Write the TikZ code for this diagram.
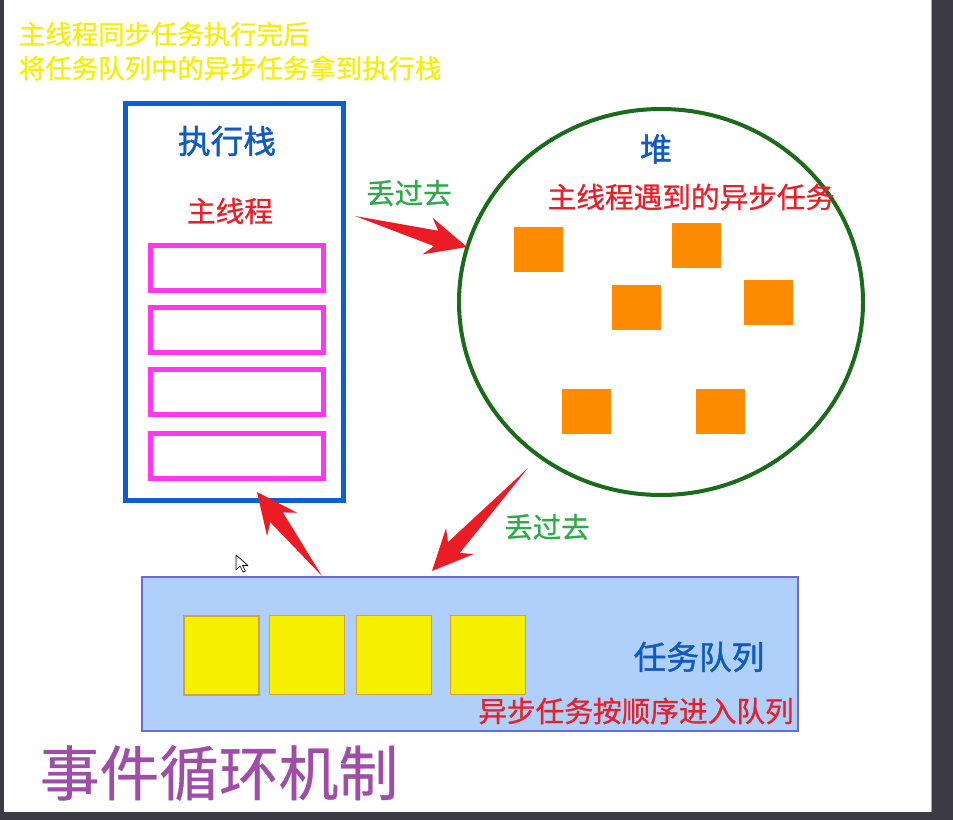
\documentclass[tikz,border=0pt]{standalone}
\usepackage{fontspec}
\setmainfont{Noto Sans CJK SC}
\newfontfamily\cjkmid[FakeBold=0.9]{Noto Sans CJK SC}
\newfontfamily\cjkheavy[FakeBold=1.3]{Noto Sans CJK SC}
\newfontfamily\cjklight[FakeBold=0.5]{Noto Sans CJK SC}
\usetikzlibrary{shapes.geometric,calc}
\definecolor{ttlyellow}{HTML}{F7EE00}
\definecolor{hdblue}{HTML}{0F5BC0}
\definecolor{txtred}{HTML}{E8202A}
\definecolor{txtgreen}{HTML}{2EAA4A}
\definecolor{stackblue}{HTML}{0B5FD0}
\definecolor{framemag}{HTML}{FF38F0}
\definecolor{heapgreen}{HTML}{1A6B1A}
\definecolor{taskorange}{HTML}{FF8C00}
\definecolor{queuefill}{HTML}{AED0FA}
\definecolor{queueline}{HTML}{6A6ADE}
\definecolor{qyellow}{HTML}{F5F000}
\definecolor{qyline}{HTML}{D4A040}
\definecolor{ttlpurple}{HTML}{A04DA8}
\definecolor{arrowred}{HTML}{EC1C24}
\definecolor{darkframe}{HTML}{3C3B44}
\newcommand\redarrow[2]{%
  \path ($(#2)!30.75pt!(#1)$) coordinate (rbase) ($(#2)!24pt!(#1)$) coordinate (rneck);
  \fill[arrowred] (#1) -- ($(rneck)!6pt!90:(#2)$) -- ($(rbase)!14.25pt!90:(#2)$) -- (#2)
    -- ($(rbase)!14.25pt!-90:(#2)$) -- ($(rneck)!6pt!-90:(#2)$) -- cycle;}
\tikzset{
  txt/.style={inner sep=0pt, outer sep=0pt},
  ttl/.style={txt, anchor=west, text=ttlyellow, font=\cjkmid\fontsize{19.8pt}{24pt}\selectfont},
  head/.style={txt, text=hdblue, font=\cjkheavy\fontsize{24.5pt}{28pt}\selectfont},
  redlbl/.style={txt, text=txtred, font=\cjkmid\fontsize{21.5pt}{26pt}\selectfont},
  greenlbl/.style={txt, text=txtgreen, font=\cjkmid\fontsize{21.3pt}{26pt}\selectfont},
  stackbox/.style={draw=stackblue, line width=3.75pt, minimum width=163.5pt, minimum height=297.75pt, inner sep=0pt},
  framebox/.style={draw=framemag, line width=3.75pt, minimum width=129.75pt, minimum height=33.75pt, inner sep=0pt},
  heapshape/.style={ellipse, draw=heapgreen, line width=3pt, minimum width=303pt, minimum height=289.5pt, inner sep=0pt},
  orangetask/.style={fill=taskorange, minimum width=36.75pt, minimum height=33.75pt, inner sep=0pt},
  queuebox/.style={fill=queuefill, draw=queueline, line width=1.1pt, minimum width=492pt, minimum height=115.5pt, inner sep=0pt},
  yellowtask/.style={fill=qyellow, draw=qyline, line width=0.8pt, minimum width=56.25pt, minimum height=59.25pt, inner sep=0pt}
}
\begin{document}
\begin{tikzpicture}[x=0.75pt, y=-0.75pt]
\useasboundingbox (0,0) rectangle (953,820);
\fill[white] (0,0) rectangle (953,820);
% screen frame
\fill[darkframe] (0,0) rectangle (4,820);
\fill[darkframe] (932,0) rectangle (953,820);
\fill[darkframe] (0,812) rectangle (953,820);
\draw[gray!70, line width=0.6pt] (931.5,0) -- (931.5,812);

% title
\node[ttl] (t1) at (19,34) {主线程同步任务执行完后};
\node[ttl] (t2) at (19,68) {将任务队列中的异步任务拿到执行栈};

% execution stack
\node[stackbox] (stack) at (234.5,302) {};
\node[head] (stacklbl) at (227,141) {执行栈};
\node[redlbl] (mainlbl) at (230,211) {主线程};
\node[framebox] (f1) at (237,268) {};
\node[framebox] (f2) at (237,329.5) {};
\node[framebox] (f3) at (237,391.5) {};
\node[framebox] (f4) at (237,456) {};

% heap
\node[heapshape] (heap) at (661,302) {};
\node[head, font=\cjkheavy\fontsize{24pt}{28pt}\selectfont] (heaplbl) at (656,149) {堆};
\node[redlbl] (heaptxt) at (691,197) {主线程遇到的异步任务};
\node[orangetask] (o1) at (538.5,249.5) {};
\node[orangetask] (o2) at (696.5,245.5) {};
\node[orangetask] (o3) at (636.5,307) {};
\node[orangetask] (o4) at (768.5,302.5) {};
\node[orangetask] (o5) at (586.5,411) {};
\node[orangetask] (o6) at (720.5,411) {};

% queue
\node[queuebox] (queue) at (470,654) {};
\node[yellowtask] (y1) at (221.5,655.5) {};
\node[yellowtask] (y2) at (307,655) {};
\node[yellowtask] (y3) at (394,655) {};
\node[yellowtask] (y4) at (488,655) {};
\node[head] (queuelbl) at (699,657) {任务队列};
\node[redlbl] (queuetxt) at (636,711) {异步任务按顺序进入队列};

% labels
\node[greenlbl] (g1) at (409,193) {丢过去};
\node[greenlbl] (g2) at (547,527) {丢过去};
\node[txt, text=ttlpurple, font=\cjklight\fontsize{44.8pt}{50pt}\selectfont] (bigtitle) at (219,773) {事件循环机制};

% arrows
\coordinate (a1s) at (355,216);
\coordinate (a1e) at (467,247);
\coordinate (a2s) at (322,576);
\coordinate (a2e) at (257,492);
\coordinate (a3s) at (528,468);
\coordinate (a3e) at (432,571);
\redarrow{a1s}{a1e}
\redarrow{a2s}{a2e}
\redarrow{a3s}{a3e}

% mouse cursor
\draw[black, fill=white, line width=0.5pt, line join=round] (236,555) -- ++(0,15) -- ++(4,-4) -- ++(3,6) -- ++(2.5,-1) -- ++(-3,-5.5) -- ++(5.5,0) -- cycle;
\end{tikzpicture}
\end{document}
